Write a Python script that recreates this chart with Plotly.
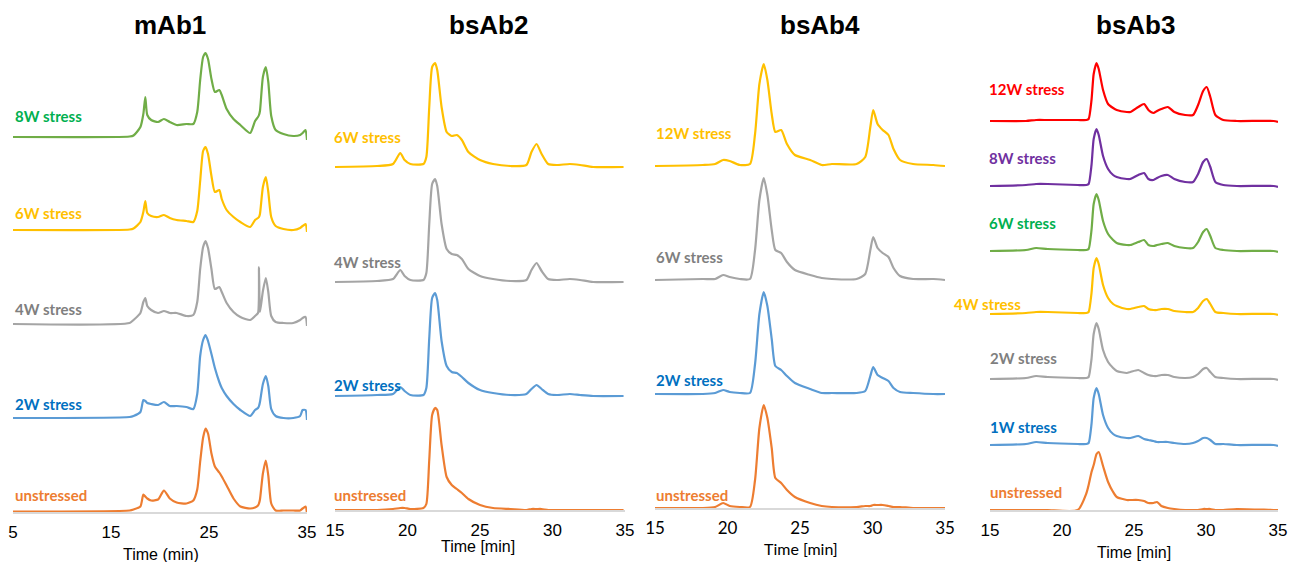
import plotly.graph_objects as go

# ---------------- data (heights above each trace's own baseline) ----------------
# mAb1
mab1_time = [5.0, 16.9, 17.3, 18.0, 18.3, 18.5, 18.7, 19.1, 19.8, 20.4, 21.0, 21.7, 22.7, 23.4,
             23.8, 24.1, 24.4, 24.65, 24.9, 25.25, 25.6, 26.05, 26.3, 26.8, 27.5, 28.2, 29.2,
             29.7, 30.0, 30.1, 30.2, 30.5, 30.8, 31.05, 31.35, 31.8, 32.6, 33.6, 34.3, 34.55,
             34.85, 35.0]
mab1_8w = [0, 0.5, 1.5, 10, 23, 40, 22, 17, 15, 18, 15, 12, 13, 13, 25, 57, 80, 84, 78, 58, 45,
           47, 42, 28, 18, 12, 4, 16, 20, 22, 26, 60, 70, 55, 21, 7, 3, 1, 2, 4, 7, -3]
mab1_6w = [0, 0.5, 1.5, 8, 18, 29, 17, 14, 13, 15, 12, 10, 9, 8, 19, 49, 79, 83, 76, 54, 38,
           40, 31, 20, 13, 8, 3, 10, 12, 13, 16, 43, 53, 38, 13, 4, 1, 0, 2, 4, 6, -2]
mab1_4w = [0, 1, 4, 11, 22, 26, 18, 14, 11, 13, 11, 11, 8, 9, 22, 55, 77, 83, 76, 55, 35,
           37, 32, 21, 12, 7, 4, 8, 11, 57, 12, 33, 46, 32, 8, 2, 1, 1, 4, 6, 7, -2]
mab1_2w = [0, 1, 2, 6, 18, 17, 15, 14, 13, 16, 12, 12, 11, 9, 24, 62, 78, 83, 77, 64, 50,
           36, 30, 22, 14, 8, 2, 8, 10, 12, 16, 34, 42, 32, 9, 2, 0, 0, 2, 8, 8, -2]
mab1_unstressed = [0, 1, 2, 5, 17, 15, 13, 11, 12, 21, 13, 9, 8, 11, 22, 50, 74, 83, 78, 58,
                   45, 39, 35, 26, 13, 5, 3, 4, 6, 8, 12, 38, 51, 36, 8, 1, 1, 1, 1, 3, 5, -2]

# bsAb2
bsab2_time = [15.0, 17.9, 19.0, 19.5, 19.8, 20.2, 21.1, 21.3, 21.5, 21.7, 21.9, 22.05, 22.35,
              22.7, 23.05, 23.4, 23.75, 24.2, 25.0, 25.9, 27.1, 28.2, 28.55, 28.9, 29.25, 29.7,
              30.3, 31.2, 31.9, 32.8, 34.9]
bsab2_6w = [0, 1, 3, 14, 7, 3, 3, 10, 60, 100, 104, 97, 60, 35, 31, 32, 27, 15, 7, 3, 1, 2,
            15, 23, 13, 3, 2, 3, 2, 0, 0]
bsab2_4w = [0, 1, 3, 12, 6, 2, 2, 9, 58, 98, 103, 96, 58, 33, 28, 27, 23, 13, 6, 3, 1, 2,
            12, 19, 11, 3, 2, 3, 2, 0, 0]
bsab2_2w = [0, 1, 2, 9, 5, 1, 1, 8, 58, 98, 103, 96, 55, 30, 24, 23, 19, 13, 6, 3, 1, 2,
            7, 11, 7, 2, 1, 2, 1, 0, 0]
bsab2_unstressed = [0, 0, 1, 2, 2, 1, 2, 6, 50, 95, 102, 100, 65, 33, 25, 21, 17, 11, 5, 2,
                    1, 0, 1, 1, 1, 0, 0, 0, 0, 0, 0]

# bsAb4
bsab4_time = [15.0, 18.3, 19.15, 19.7, 20.15, 20.85, 21.55, 21.9, 22.2, 22.5, 22.75, 23.05,
              23.3, 23.7, 24.1, 24.65, 25.7, 26.5, 27.2, 28.9, 29.5, 29.85, 30.05, 30.35, 30.7,
              31.1, 31.45, 31.9, 32.8, 34.2, 35.0]
bsab4_12w = [0, 1, 2, 6, 5, 1, 2, 32, 82, 102, 86, 52, 34, 36, 22, 11, 6, 1, 2, 2, 9, 39, 56,
             42, 36, 31, 17, 6, 2, 1, 0]
bsab4_6w = [0, 1, 1, 5, 3, 1, 1, 30, 80, 102, 85, 50, 30, 27, 18, 10, 5, 2, 1, 1, 6, 30, 43,
            32, 27, 23, 12, 4, 1, 1, 0]
bsab4_2w = [0, 0, 1, 4, 2, 1, 1, 30, 80, 102, 88, 55, 28, 24, 18, 11, 5, 1, 1, 1, 3, 18, 27,
            19, 16, 13, 6, 2, 1, 0, 0]
bsab4_unstressed = [0, 0, 1, 5, 2, 1, 1, 28, 80, 103, 90, 60, 30, 25, 18, 11, 5, 2, 1, 1, 2,
                    2, 3, 3, 3, 2, 1, 1, 0, 0, 0]

# bsAb3
bsab3_time = [15.0, 17.5, 18.2, 19.0, 21.1, 21.7, 21.85, 22.05, 22.2, 22.4, 22.55, 22.85, 23.2,
              23.55, 23.8, 24.5, 24.75, 25.3, 25.7, 26.0, 26.35, 26.6, 26.9, 27.35, 27.8, 28.55,
              29.1, 29.45, 29.8, 30.05, 30.3, 30.65, 31.2, 32.15, 34.7, 35.0]
bsab3_12w = [0, 0, 1, 1, 1, 1, 2, 21, 47, 58, 52, 31, 17, 13, 11, 9, 9, 14, 17, 11, 8, 10, 12,
             14, 9, 6, 6, 16, 30, 34, 24, 6, 1, 0, 0, -1]
bsab3_8w = [0, 1, 2, 2, 1, 1, 2, 21, 47, 57, 51, 30, 17, 11, 9, 7, 7, 11, 13, 7, 6, 8, 10, 11,
            7, 4, 4, 12, 24, 27, 19, 4, 1, 0, 0, -1]
bsab3_6w = [0, 1, 3, 2, 1, 1, 2, 21, 47, 57, 51, 30, 17, 11, 8, 6, 6, 9, 11, 6, 5, 6, 7, 8, 5,
            3, 3, 9, 19, 22, 15, 3, 1, 0, 0, -1]
bsab3_4w = [0, 1, 2, 2, 1, 1, 2, 21, 46, 56, 50, 29, 16, 10, 8, 5, 5, 7, 8, 5, 4, 4, 5, 5, 3,
            2, 2, 6, 13, 15, 10, 2, 1, 0, 0, -1]
bsab3_2w = [0, 1, 3, 2, 1, 1, 2, 20, 45, 56, 50, 29, 17, 11, 8, 6, 7, 9, 6, 4, 3, 3, 4, 4, 2,
            1, 2, 5, 10, 11, 7, 2, 1, 0, 0, -1]
bsab3_1w = [0, 1, 3, 2, 1, 1, 2, 21, 47, 57, 51, 30, 17, 11, 9, 7, 7, 9, 6, 5, 4, 3, 3, 3, 2,
            1, 2, 4, 7, 7, 5, 1, 1, 0, 0, -1]
bsab3_unstressed = [0, 0, 0, 0, 0, 17, 25, 38, 45, 56, 58, 44, 28, 18, 13, 10, 10, 10, 9, 7, 7,
                    8, 4, 2, 1, 0, 0, 0, 1, 1, 1, 0, 0, 1, 0, 0]

panel_titles = ["mAb1", "bsAb2", "bsAb4", "bsAb3"]
axis_titles = ["Time (min)", "Time [min]", "Time [min]", "Time [min]"]
tick_values = [[5, 15, 25, 35], [15, 20, 25, 30, 35], [15, 20, 25, 30, 35], [15, 20, 25, 30, 35]]
x_ranges = [[5, 35], [15, 35], [15, 35], [15, 35]]

# ---------------- styles ----------------
W, H = 1289, 562
ORANGE = ("#ED7D31", "#ED7D31")
BLUE = ("#5B9BD5", "#0070C0")
GRAY = ("#A5A5A5", "#7F7F7F")
YELLOW = ("#FFC000", "#FFC000")
GREEN = ("#70AD47", "#00B050")
PURPLE = ("#7030A0", "#7030A0")
RED = ("#FF0000", "#FF0000")

# (label, values, baseline offset, colours, label px x, label px y)
panels = [
    dict(time=mab1_time, dom=(13, 307), axis_y=513, title_x=170, xt=(161, 554),
         tick_font="Liberation Sans", title_font="Liberation Sans",
         series=[("8W stress", mab1_8w, 376, GREEN, 13, 116),
                 ("6W stress", mab1_6w, 283, YELLOW, 13, 213),
                 ("4W stress", mab1_4w, 189, GRAY, 13, 309),
                 ("2W stress", mab1_2w, 95, BLUE, 13, 404),
                 ("unstressed", mab1_unstressed, 1.5, ORANGE, 13, 495)]),
    dict(time=bsab2_time, dom=(335, 625), axis_y=511, title_x=488, xt=(478, 546),
         tick_font="Liberation Sans", title_font="Liberation Sans",
         series=[("6W stress", bsab2_6w, 344, YELLOW, 332, 137),
                 ("4W stress", bsab2_4w, 229, GRAY, 332, 262),
                 ("2W stress", bsab2_2w, 115, BLUE, 332, 385),
                 ("unstressed", bsab2_unstressed, 1, ORANGE, 332, 495)]),
    dict(time=bsab4_time, dom=(655, 945), axis_y=509, title_x=820, xt=(801, 548),
         tick_font="Lato", title_font="Lato",
         series=[("12W stress", bsab4_12w, 343, YELLOW, 654, 133),
                 ("6W stress", bsab4_6w, 229, GRAY, 654, 257),
                 ("2W stress", bsab4_2w, 115, BLUE, 654, 380),
                 ("unstressed", bsab4_unstressed, 1, ORANGE, 654, 495)]),
    dict(time=bsab3_time, dom=(990, 1278), axis_y=511, title_x=1135, xt=(1134, 552),
         tick_font="Liberation Sans", title_font="Liberation Sans",
         series=[("12W stress", bsab3_12w, 390, RED, 987, 89),
                 ("8W stress", bsab3_8w, 325, PURPLE, 987, 158),
                 ("6W stress", bsab3_6w, 260, GREEN, 987, 223),
                 ("4W stress", bsab3_4w, 197, YELLOW, 952, 304),
                 ("2W stress", bsab3_2w, 132, GRAY, 988, 358),
                 ("1W stress", bsab3_1w, 66, BLUE, 988, 427),
                 ("unstressed", bsab3_unstressed, 1, ORANGE, 988, 492)]),
]

fig = go.Figure()
annotations = []
layout_axes = {}

for i, p in enumerate(panels):
    n = "" if i == 0 else str(i + 1)
    xa, ya = "x" + n, "y" + n
    for name, vals, off, (lc, tc), lx, ly in p["series"]:
        fig.add_trace(go.Scatter(
            x=p["time"], y=[v + off for v in vals], mode="lines", name=name,
            line=dict(color=lc, width=2.2, shape="spline", smoothing=0.6),
            xaxis=xa, yaxis=ya, showlegend=False, hoverinfo="skip"))
        annotations.append(dict(
            text="<b>%s</b>" % name, x=lx / W, y=1 - ly / H, xref="paper", yref="paper",
            xanchor="left", yanchor="middle", showarrow=False,
            font=dict(family="Lato", size=15, color=tc)))
    ay = p["axis_y"]
    layout_axes["xaxis" + n] = dict(
        domain=[p["dom"][0] / W, p["dom"][1] / W], range=x_ranges[i],
        anchor="free", position=(H - ay) / H, automargin=False,
        tickvals=tick_values[i], ticktext=[str(t) for t in tick_values[i]],
        showline=True, linecolor="#D9D9D9", linewidth=1.5,
        showgrid=False, zeroline=False, ticks="outside", ticklen=4,
        tickcolor="rgba(0,0,0,0)",
        tickfont=dict(family=p["tick_font"], size=17, color="#000000"))
    layout_axes["yaxis" + n] = dict(
        domain=[0, 1], range=[ay - H, ay], anchor=xa, visible=False,
        fixedrange=True, automargin=False)
    annotations.append(dict(
        text="<b>%s</b>" % panel_titles[i], x=p["title_x"] / W, y=1 - 25 / H,
        xref="paper", yref="paper", xanchor="center", yanchor="middle", showarrow=False,
        font=dict(family="Liberation Sans", size=26, color="#000000")))
    annotations.append(dict(
        text=axis_titles[i], x=p["xt"][0] / W, y=1 - p["xt"][1] / H,
        xref="paper", yref="paper", xanchor="center", yanchor="middle", showarrow=False,
        font=dict(family=p["title_font"], size=16, color="#000000")))

fig.update_layout(
    width=W, height=H, margin=dict(l=0, r=0, t=0, b=0, autoexpand=False),
    paper_bgcolor="white", plot_bgcolor="white",
    annotations=annotations, **layout_axes)

fig.write_html("out.html")
